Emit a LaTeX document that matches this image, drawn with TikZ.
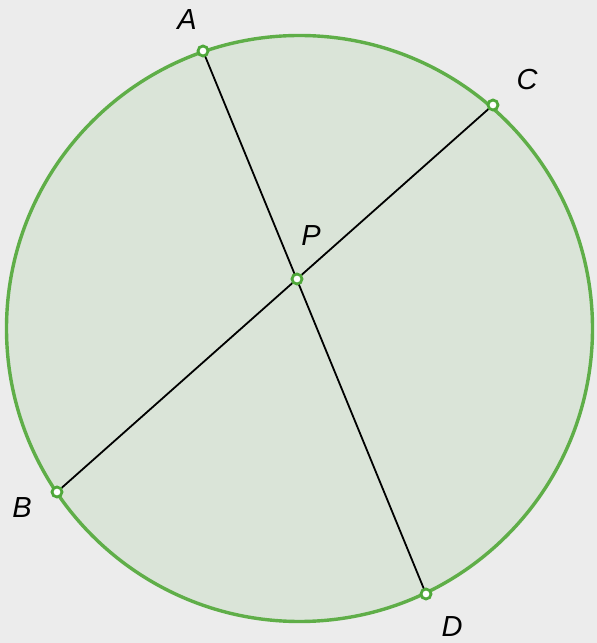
\documentclass[tikz,border=0pt]{standalone}
\usepackage{fontspec}
\setmainfont{Liberation Sans}
\begin{document}
\begin{tikzpicture}[x=1pt,y=1pt,
  pt/.style={circle,draw=ptgreen,fill=white,line width=2.8pt,inner sep=0pt,minimum size=10pt},
  lbl/.style={font=\fontsize{29}{31}\selectfont\itshape,text=black,inner sep=0pt},
  chord/.style={line width=1.8pt,black}]
\definecolor{bg}{HTML}{ECECEC}
\definecolor{disc}{HTML}{DAE4D8}
\definecolor{ptgreen}{HTML}{4FA83A}
\definecolor{ring}{HTML}{5FAE48}
\fill[bg] (0,0) rectangle (597,643);
\useasboundingbox (0,0) rectangle (597,643);
\coordinate (O) at (299.5,314.5);
\draw[fill=disc,draw=ring,line width=3.4pt] (O) circle (293);
\coordinate (Ac) at (203,592);
\coordinate (Cc) at (493,538);
\coordinate (Pc) at (297,364);
\coordinate (Bc) at (57,151);
\coordinate (Dc) at (426,49);
\draw[chord] (Ac) -- (Dc);
\draw[chord] (Bc) -- (Cc);
\node[pt] (A) at (Ac) {};
\node[pt] (C) at (Cc) {};
\node[pt] (P) at (Pc) {};
\node[pt] (B) at (Bc) {};
\node[pt] (D) at (Dc) {};
\node[lbl] (la) at (187,623) {A};
\node[lbl] (lc) at (527,563) {C};
\node[lbl] (lp) at (311,407) {P};
\node[lbl] (lb) at (22,135) {B};
\node[lbl] (ld) at (452,16) {D};
\end{tikzpicture}
\end{document}
